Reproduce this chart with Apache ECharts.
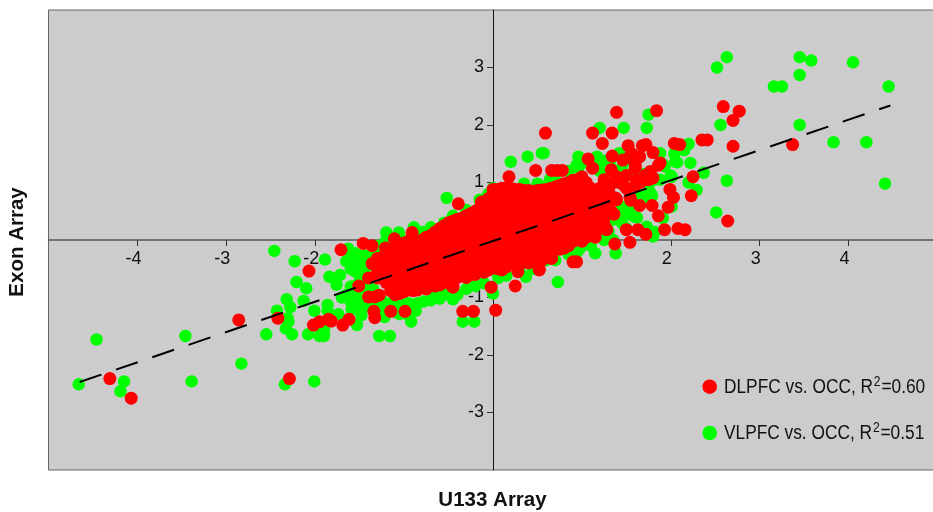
<!DOCTYPE html>
<html>
<head>
<meta charset="utf-8">
<style>html,body{margin:0;padding:0;background:#fff;overflow:hidden}#c{width:933px;height:512px}</style>
<script src="https://cdn.jsdelivr.net/npm/echarts@6/dist/echarts.min.js"></script>
</head>
<body>
<div id="c"></div>
<script>
const xTicks = [-4,-3,-2,-1,1,2,3,4];
const yTicks = [-3,-2,-1,1,2,3];
const xTitle = 'U133 Array';
const yTitle = 'Exon Array';
const redName = 'DLPFC vs. OCC';
const greenName = 'VLPFC vs. OCC';
const redR2 = '0.60';
const greenR2 = '0.51';
const trendLine = [[-4.65,-2.47],[4.47,2.34]];

const greenOutliers = [
[2.52,3.0],[2.63,3.18],[3.45,3.18],[3.58,3.12],[4.05,3.09],[3.45,2.87],[3.16,2.67],[3.25,2.67],[4.45,2.67],
[3.45,2.0],[2.56,2.0],[3.83,1.7],[4.2,1.7],[4.41,.98],[2.63,1.03],[2.51,.48],[2.37,1.17],[2.29,.87],[2.2,1.0],
[2.22,1.34],[2.2,1.67],[2.15,1.56],[2.04,1.5],[2.07,1.35],[2.0,1.12],[1.75,2.18],[1.73,1.95],[1.47,1.95],[1.2,1.95],
[-4.66,-2.51],[-4.46,-1.73],[-4.15,-2.46],[-4.19,-2.63],[-3.46,-1.67],[-3.39,-2.46],[-2.83,-2.15],[-2.34,-2.51],[-2.01,-2.46]
];
const greenUpperRight = [
[1.88,1.51],[1.79,.77],[1.91,.38],[1.73,.23],[1.8,.06],[1.58,.41],[1.62,.39],[1.49,.21],[1.35,0],[1.38,-.23],[1.15,-.23],
[.98,-.14],[.39,1.45],[.2,1.36],[.55,1.51],[.57,1.51],[.96,1.45],[1.17,1.45],[1.42,1.51],[.94,1.3],[1.2,1.2],[.98,1.34],
[.96,1.25],[1.32,1.39],[1.18,1.25],[1.82,1.05],[1.88,1.05],[1.77,.82],[1.65,.78],[2.01,.58],[1.34,.35],[1.45,.58],[1.5,.2],
[1.82,.14],[1.01,-.03],[.64,1.05],[.56,.93],[1.35,1.22],[1.54,1.39],[.85,1.2],[2.05,1.36],[1.93,1.28],[2.01,1.1],[1.91,1.32],
[.85,-.25],[.95,-.2],[1.1,-.1],[1.25,0],[1.3,.15],[1.45,.3],[1.5,.45],[1.55,.6],[1.7,.7],[1.75,.95],[1.7,1.15],[1.6,1.2],
[1.45,1.25],[1.25,1.38],[1.1,1.3],[.7,1.05],[.5,.98],[.35,.98]
];
const greenLowerLeft = [
[-2.46,-.19],[-2.23,-.37],[-1.89,-.34],[-1.65,-.37],[-1.63,-.15],[-1.55,-.23],[-1.72,-.61],[-1.84,-.64],[-1.76,-.78],
[-2.21,-.73],[-2.1,-.84],[-2.32,-1.03],[-2.13,-1.06],[-2.28,-1.17],[-2.43,-1.23],[-2.01,-1.23],[-1.86,-1.13],[-1.86,-1.23],
[-1.7,-1.0],[-1.55,-.98],[-1.6,-.81],[-1.55,-.55],[-1.5,-.4],[-1.44,-.64],[-1.5,-.72],[-1.74,-1.29],[-1.59,-1.21],[-1.5,-1.19],
[-1.48,-1.31],[-1.53,-1.48],[-2.31,-1.36],[-2.3,-1.42],[-2.33,-1.54],[-2.26,-1.64],[-2.55,-1.64],[-2.08,-1.64],[-1.95,-1.67],
[-1.9,-1.67],[-1.9,-1.56],[-1.28,-1.67],[-1.16,-1.67],[-.92,-1.42],[-.87,-1.23],[-1.05,-1.29],[-1.22,-1.34],[-1.35,-1.16],
[-.78,-1.07],[-.67,-.93],[-.45,-1.03],[-.5,-.93],[-.34,-1.42],[-.21,-1.42],[0,-.93],[-1.2,.13],[-1.06,.13],[-.89,.22],[-.79,.14],
[-.66,.16],[-.43,.35],[-.52,.73],[-1.35,-.17],[-1.45,-.27],[-.3,.52],[0,.9],[.73,-.73],[.37,-.64],[.06,-.66],[-.5,-.87],
[.6,-.35],[-1.3,-.3],[-1.4,-.45],[-1.45,-.85],[-1.35,-.85],[-1.25,-1.05],[-1.15,-1.1],[-1.05,-1.1],[-.95,-1.1],[-1.45,-1.05],
[-1.6,-.3],[-1.55,-.38],[-1.6,-.5],[-1.5,-.55],[-1.45,-.5],[-1.42,-.35],[-1.65,-.95],[-1.55,-.8],[-1.6,-1.08],[-1.5,-1.05],
[-1.42,-1.15],[-1.3,-1.2],[-1.2,-1.2],[-1.1,-1.25],[-1,-1.2],[-.95,-1.3],[-.85,-1.1],[-.7,-1.05],[-.6,-1.02],[-.55,-.95],
[-.4,-.95],[-.3,-.85],[-.2,-.8],[-.1,-.75],[.15,-.62],[.3,-.55],[.45,-.5],[.5,-.45],[.7,-.35],
[-.05,.8],[-.15,.7],[-.3,.48],[-.45,.42],[-.55,.3],[-.7,.22],[-.85,.12],[-1.05,.05],[-1.2,0],[-1.3,-.1]
];
const redOutliers = [
[1.84,2.25],[1.39,2.22],[.59,1.86],[1.12,1.86],[1.34,1.86],[1.23,1.68],[1.52,1.64],[1.68,1.64],[1.72,1.66],[2.04,1.68],[2.1,1.66],
[2.35,1.74],[2.41,1.74],[2.59,2.32],[2.77,2.24],[2.7,2.08],[2.7,1.63],[3.37,1.66],[2.64,.33],[2.25,1.1],[2.23,.77],[1.99,.88],
[2.03,.74],[1.97,.57],[1.86,.42],[1.79,.6],[1.65,.6],[1.8,1.52],[1.88,1.34],[1.86,1.3],[1.34,1.46],[1.07,1.41],[.48,1.21],[.18,1.1],
[.66,1.21],[.72,1.21],[.78,1.21],[2.08,.2],[2.16,.18],[1.93,.18],[1.72,.1],[1.63,.18],[1.5,.18],[1.37,-.07],[1.54,-.04],[1.28,.18],
[.9,-.38],[.94,-.38],[.66,-.32],[.52,-.51],[.28,-.55],[.25,-.8],[.52,-.52],
[-1.71,-.17],[-2.07,-.54],[-1.46,-.06],[-1.36,-.1],[-1.11,.02],[-.91,.13],[-1.21,-.14],[-1.36,-.41],[-1.33,-.64],[-1.4,-.66],[-1.51,-.8],
[-1.4,-.99],[-1.28,-.96],[-1.33,-.99],[-1.34,-1.24],[-1.33,-1.35],[-1.15,-1.24],[-.99,-1.24],[-1.62,-1.38],[-1.69,-1.48],[-1.85,-1.38],
[-1.82,-1.41],[-1.95,-1.42],[-2.02,-1.48],[-2.42,-1.36],[-2.86,-1.39],[-2.29,-2.41],[-4.31,-2.41],[-4.07,-2.75],[-.34,-1.24],[-.22,-1.24],
[.03,-1.22],[-.02,-.82],[-.45,-.82],[-.39,.63],[-.13,.66]
];
const redUpperCluster = [
[1.46,1.39],[1.55,1.43],[1.6,1.43],[1.56,1.5],[1.33,1.22],[1.12,1.25],[1.6,1.25],[1.5,1.12],[1.72,1.13],[1.66,1.0],[1.75,1.05],
[1.36,1.0],[1.5,.9],[1.6,.95],[1.55,.69],[1.38,.73],[1.33,.5],[1.36,.45],[1.25,1.05],[1.4,1.08],[1.45,.98],[1.3,.85],[1.2,.9],
[1.39,.7],[1.34,.47],[1.15,.05],[1.3,.65],[1.77,1.19],[1.8,1.08],[1.62,1.05],[1.54,1.45],[1.65,1.45],[1.6,1.31],[1.39,1.1],[1.54,.75]
];
const redBlobLeft = [
[-1.3,-.32],[-1.3,-.5],[-1.3,-.66],
[-1.25,-.3],[-1.25,-.47],[-1.25,-.65],
[-1.2,-.22],[-1.2,-.4],[-1.2,-.57],[-1.2,-.74],
[-1.15,-.2],[-1.15,-.38],[-1.15,-.55],[-1.15,-.72],[-1.15,-.88],
[-1.1,-.12],[-1.1,-.3],[-1.1,-.47],[-1.1,-.64],[-1.1,-.81],[-1.1,-.95],
[-1.05,-.1],[-1.05,-.3],[-1.05,-.47],[-1.05,-.64],[-1.05,-.81],[-1.05,-.93],
[-1,-.05],[-1,-.22],[-1,-.39],[-1,-.56],[-1,-.73],[-1,-.9],
[-.95,-.02],[-.95,-.13],[-.95,-.3],[-.95,-.47],[-.95,-.64],[-.95,-.81],
[-.9,-.04],[-.9,-.2],[-.9,-.37],[-.9,-.54],[-.9,-.71],[-.9,-.88],
[-.85,-.04],[-.85,-.22],[-.85,-.39],[-.85,-.56],[-.85,-.73],[-.85,-.87],
[-.8,0],[-.8,-.14],[-.8,-.31],[-.8,-.48],[-.8,-.65],[-.8,-.82],
[-.75,.05],[-.75,-.17],[-.75,-.35],[-.75,-.52],[-.75,-.69],[-.75,-.85],
[-.7,.08],[-.7,-.09],[-.7,-.26],[-.7,-.43],[-.7,-.6],[-.7,-.77],
[-.65,.14],[-.65,-.01],[-.65,-.18],[-.65,-.35],[-.65,-.52],[-.65,-.69],[-.65,-.8],
[-.6,.2],[-.6,.03],[-.6,-.14],[-.6,-.31],[-.6,-.48],[-.6,-.65],[-.6,-.78],
[-.55,.25],[-.55,.11],[-.55,-.06],[-.55,-.23],[-.55,-.4],[-.55,-.57],[-.55,-.74],
[-.5,.3],[-.5,.14],[-.5,-.03],[-.5,-.2],[-.5,-.37],[-.5,-.54],[-.5,-.71],
[-.45,.33],[-.45,.11],[-.45,-.06],[-.45,-.23],[-.45,-.4],[-.45,-.57],[-.45,-.72],
[-.4,.36],[-.4,.2],[-.4,.03],[-.4,-.14],[-.4,-.31],[-.4,-.48],[-.4,-.65],
[-.35,.38],[-.35,.19],[-.35,.02],[-.35,-.15],[-.35,-.32],[-.35,-.49],[-.35,-.62],
[-.3,.42],[-.3,.28],[-.3,.11],[-.3,-.06],[-.3,-.23],[-.3,-.4],[-.3,-.57],[-.3,-.65],
[-.25,.46],[-.25,.25],[-.25,.08],[-.25,-.09],[-.25,-.26],[-.25,-.43],[-.25,-.6],
[-.2,.5],[-.2,.34],[-.2,.17],[-.2,0],[-.2,-.17],[-.2,-.34],[-.2,-.51],[-.2,-.6],
[-.15,.55],[-.15,.33],[-.15,.16],[-.15,-.01],[-.15,-.18],[-.15,-.35],[-.15,-.5],
[-.1,.6],[-.1,.42],[-.1,.25],[-.1,.08],[-.1,-.09],[-.1,-.26],[-.1,-.43],[-.1,-.56],
[-.05,.72],[-.05,.5],[-.05,.33],[-.05,.16],[-.05,-.01],[-.05,-.18],[-.05,-.35],[-.05,-.52]
];
const redBlobRight = [
[0,.88],[0,.72],[0,.55],[0,.38],[0,.21],[0,.04],[0,-.13],[0,-.3],[0,-.47],
[.05,.88],[.05,.65],[.05,.48],[.05,.31],[.05,.14],[.05,-.03],[.05,-.2],[.05,-.37],[.05,-.5],
[.1,.9],[.1,.76],[.1,.59],[.1,.42],[.1,.25],[.1,.08],[.1,-.09],[.1,-.26],[.1,-.43],[.1,-.52],
[.15,.9],[.15,.72],[.15,.55],[.15,.38],[.15,.21],[.15,.04],[.15,-.13],[.15,-.3],[.15,-.47],
[.2,.9],[.2,.8],[.2,.63],[.2,.46],[.2,.29],[.2,.12],[.2,-.05],[.2,-.22],[.2,-.39],
[.25,.88],[.25,.72],[.25,.55],[.25,.38],[.25,.21],[.25,.04],[.25,-.13],[.25,-.3],[.25,-.42],
[.3,.88],[.3,.71],[.3,.54],[.3,.37],[.3,.2],[.3,.03],[.3,-.14],[.3,-.31],[.3,-.42],
[.35,.86],[.35,.65],[.35,.48],[.35,.31],[.35,.14],[.35,-.03],[.35,-.2],[.35,-.37],
[.4,.86],[.4,.75],[.4,.58],[.4,.41],[.4,.24],[.4,.07],[.4,-.1],[.4,-.27],[.4,-.4],
[.45,.85],[.45,.62],[.45,.45],[.45,.28],[.45,.11],[.45,-.06],[.45,-.23],[.45,-.38],
[.5,.86],[.5,.69],[.5,.52],[.5,.35],[.5,.18],[.5,.01],[.5,-.16],[.5,-.33],
[.55,.87],[.55,.6],[.55,.43],[.55,.26],[.55,.09],[.55,-.08],[.55,-.25],[.55,-.35],
[.6,.88],[.6,.73],[.6,.56],[.6,.39],[.6,.22],[.6,.05],[.6,-.12],[.6,-.28],
[.65,.9],[.65,.63],[.65,.46],[.65,.29],[.65,.12],[.65,-.05],[.65,-.22],
[.7,.92],[.7,.71],[.7,.54],[.7,.37],[.7,.2],[.7,.03],[.7,-.14],
[.75,.95],[.75,.8],[.75,.62],[.75,.45],[.75,.28],[.75,.11],[.75,-.06],[.75,-.16],
[.8,.98],[.8,.78],[.8,.61],[.8,.44],[.8,.27],[.8,.1],[.8,-.07],[.8,-.14],
[.85,1.0],[.85,.87],[.85,.7],[.85,.53],[.85,.36],[.85,.19],[.85,.02],[.85,-.1],
[.9,1.04],[.9,.96],[.9,.79],[.9,.62],[.9,.45],[.9,.28],[.9,.11],[.9,-.02],
[.95,1.05],[.95,.87],[.95,.7],[.95,.53],[.95,.36],[.95,.19],[.95,.02],
[1,1.1],[1,.95],[1,.78],[1,.61],[1,.44],[1,.27],[1,.1],[1,-.02],
[1.05,1.0],[1.05,.85],[1.05,.67],[1.05,.5],[1.05,.33],[1.05,.16],[1.05,.05],
[1.1,.9],[1.1,.75],[1.1,.58],[1.1,.41],[1.1,.24],[1.1,.1],
[1.15,.82],[1.15,.67],[1.15,.5],[1.15,.33],[1.15,.16],
[1.2,.78],[1.2,.62],[1.2,.45],[1.2,.3],[1.2,.2],
[1.25,.7],[1.25,.55],[1.25,.38],[1.25,.28]
];

const font = '"Liberation Sans",Arial,sans-serif';
const chart = echarts.init(document.getElementById('c'), null, {renderer:'canvas'});
const legendRich = {
  a:{fontFamily:font,fontSize:20,fill:'#111',lineHeight:24},
  s:{fontFamily:font,fontSize:14,fill:'#111',verticalAlign:'top',padding:[0,1,8,1],lineHeight:14}
};
const legendLabel = (name,r2)=>`{a|${name}, R}{s|2}{a|=${r2}}`;
const legendCircle = (cy,color)=>({type:'circle',shape:{cx:709.7,cy,r:7.3},style:{fill:color},z:10});
const legendText = (cy,name,r2)=>({type:'text',x:724,y:cy,scaleX:.865,z:10,
  style:{text:legendLabel(name,r2),rich:legendRich,fill:'#111',font:'20px '+font,verticalAlign:'middle',align:'left'}});
chart.setOption({
  animation:false,
  backgroundColor:'#fff',
  grid:{left:48.5,top:10,width:889,height:460,show:true,backgroundColor:'#cccccc',borderColor:'#666',borderWidth:1,outerBoundsMode:'none'},
  xAxis:{
    type:'value',min:-5,max:5,interval:1,splitLine:{show:false},position:'bottom',offset:-230,
    axisLine:{onZero:false,lineStyle:{color:'#555',width:1.5}},
    axisTick:{show:true,length:6,customValues:xTicks,lineStyle:{color:'#333'}},
    axisLabel:{customValues:xTicks,margin:10,fontFamily:font,fontSize:18,color:'#111',padding:[0,8,0,0]}
  },
  yAxis:{
    type:'value',min:-4,max:4,interval:1,splitLine:{show:false},position:'left',offset:-444.5,
    axisLine:{onZero:false,lineStyle:{color:'#111',width:1}},
    axisTick:{show:true,length:6,customValues:yTicks,lineStyle:{color:'#333'}},
    axisLabel:{customValues:yTicks,margin:9,fontFamily:font,fontSize:18,color:'#111'}
  },
  graphic:[
    {type:'text',x:492.5,y:500,style:{text:xTitle,font:'bold 20.5px '+font,fill:'#111',align:'center',verticalAlign:'middle'}},
    {type:'text',x:17,y:242,rotation:Math.PI/2,style:{text:yTitle,font:'bold 20.5px '+font,fill:'#111',align:'center',verticalAlign:'middle'}},
    legendCircle(386.7,'#ff0000'),legendCircle(433,'#00ff00'),
    legendText(387,redName,redR2),legendText(433,greenName,greenR2)
  ],
  series:[
    {name:greenName,type:'scatter',symbolSize:12.5,itemStyle:{color:'#00ff00',opacity:1},z:2,
     data:[...greenOutliers,...greenUpperRight,...greenLowerLeft]},
    {name:redName,type:'scatter',symbolSize:13,itemStyle:{color:'#ff0000',opacity:1},z:3,
     data:[...redOutliers,...redUpperCluster,...redBlobLeft,...redBlobRight]},
    {type:'line',data:trendLine,symbol:'none',silent:true,z:4,
     lineStyle:{color:'#000',width:2,type:[23,15.4]}}
  ]
});
</script>
</body>
</html>
